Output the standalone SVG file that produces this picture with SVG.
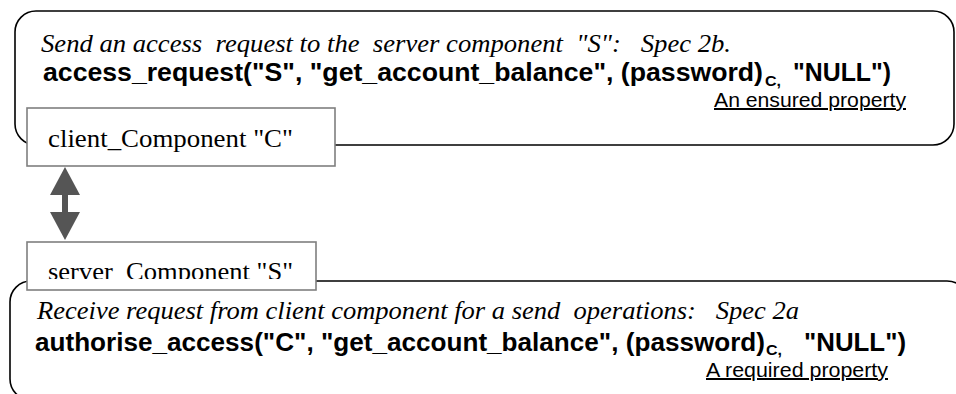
<svg xmlns="http://www.w3.org/2000/svg" width="956" height="394" viewBox="0 0 956 394">
  <style>
    .frame { fill: #ffffff; stroke: #000000; stroke-width: 1.6; }
    .comp { fill: #ffffff; stroke: #7f7f7f; stroke-width: 1.6; }
    .desc { font-family: "Liberation Serif", "Times New Roman", serif; font-style: italic; font-size: 25px; fill: #000000; white-space: pre; }
    .spec { font-family: "Liberation Sans", Arial, sans-serif; font-weight: bold; font-size: 25px; fill: #000000; white-space: pre; }
    .sub { font-family: "Liberation Sans", Arial, sans-serif; font-weight: bold; font-size: 15px; fill: #000000; white-space: pre; }
    .prop { font-family: "Liberation Sans", Arial, sans-serif; font-size: 20px; fill: #000000; text-decoration: underline; white-space: pre; }
    .name { font-family: "Liberation Serif", "Times New Roman", serif; font-size: 26px; fill: #000000; white-space: pre; }
    .link { stroke: #555555; stroke-width: 6; fill: none; }
  </style>
  <defs>
    <marker id="head" viewBox="0 0 28 30" refX="0" refY="15" markerWidth="28" markerHeight="30" markerUnits="userSpaceOnUse" orient="auto-start-reverse">
      <path d="M0,0 L28,15 L0,30 z" fill="#555555"/>
    </marker>
    <clipPath id="serverClip">
      <rect x="27" y="242" width="289" height="37"/>
    </clipPath>
  </defs>

  <!-- client side: ensured property frame -->
  <g id="client-spec">
    <rect class="frame" x="15" y="11" width="939" height="134" rx="21" ry="21"/>
    <text class="desc" x="41" y="52" textLength="690" lengthAdjust="spacingAndGlyphs">Send an access  request to the  server component  "S":   Spec 2b.</text>
    <text class="spec" x="43" y="81" textLength="720" lengthAdjust="spacingAndGlyphs">access_request("S", "get_account_balance", (password)</text>
    <text class="sub" x="765" y="86" textLength="16" lengthAdjust="spacingAndGlyphs">C,</text>
    <text class="spec" x="793" y="81" textLength="98" lengthAdjust="spacingAndGlyphs">"NULL")</text>
    <text class="prop" x="714" y="107" textLength="192" lengthAdjust="spacingAndGlyphs">An ensured property</text>
  </g>

  <g id="client-component">
    <rect class="comp" x="27" y="108" width="308" height="58"/>
    <text class="name" x="48" y="147" textLength="245" lengthAdjust="spacingAndGlyphs">client_Component "C"</text>
  </g>

  <!-- server side: required property frame -->
  <g id="server-spec">
    <rect class="frame" x="10" y="281" width="958" height="119" rx="21" ry="21"/>
    <text class="desc" x="37" y="319" textLength="762" lengthAdjust="spacingAndGlyphs">Receive request from client component for a send  operations:   Spec 2a</text>
    <text class="spec" x="35" y="351" textLength="730" lengthAdjust="spacingAndGlyphs">authorise_access("C", "get_account_balance", (password)</text>
    <text class="sub" x="766" y="355" textLength="16" lengthAdjust="spacingAndGlyphs">C,</text>
    <text class="spec" x="804" y="351" textLength="102" lengthAdjust="spacingAndGlyphs">"NULL")</text>
    <text class="prop" x="706" y="377" textLength="182" lengthAdjust="spacingAndGlyphs">A required property</text>
  </g>

  <g id="server-component">
    <rect class="comp" x="27" y="242" width="289" height="48"/>
    <text class="name" x="48" y="280" textLength="245" lengthAdjust="spacingAndGlyphs" clip-path="url(#serverClip)">server  Component "S"</text>
  </g>

  <!-- request / response link between the two components -->
  <g id="connectors">
    <line class="link" x1="65" y1="195" x2="65" y2="212" marker-start="url(#head)" marker-end="url(#head)"/>
  </g>
</svg>
